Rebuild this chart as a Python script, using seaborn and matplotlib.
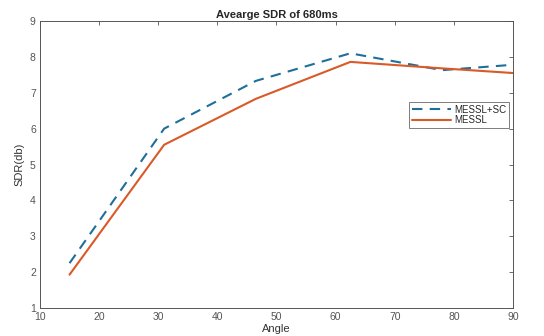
import numpy as np
import pandas as pd
import seaborn as sns
import matplotlib
matplotlib.use("Agg")
import matplotlib.pyplot as plt
from matplotlib.lines import Line2D

angles = [15, 31, 46.5, 62.5, 78, 90]
messl_sc = [2.25, 6.0, 7.33, 8.1, 7.63, 7.78]
messl = [1.93, 5.55, 6.83, 7.86, 7.68, 7.55]
series_names = ["MESSL+SC", "MESSL"]
x_ticks = [10, 20, 30, 40, 50, 60, 70, 80, 90]
y_ticks = [1, 2, 3, 4, 5, 6, 7, 8, 9]

df = pd.DataFrame({
    "Angle": angles * 2,
    "SDR": messl_sc + messl,
    "Method": [series_names[0]] * len(angles) + [series_names[1]] * len(angles),
})

sns.set_theme(style="white")
plt.rcParams['font.family'] = ['Liberation Sans', 'DejaVu Sans']

fig = plt.figure(figsize=(5.44, 3.36), dpi=100)
ax = fig.add_axes([0.0735, 0.0833, 0.8695, 0.8542])

palette = {"MESSL+SC": "#1f6f9a", "MESSL": "#d95a28"}
sns.lineplot(data=df, x="Angle", y="SDR", hue="Method", style="Method",
             palette=palette, dashes={"MESSL+SC": (5, 3.5), "MESSL": ""},
             linewidth=1.5, ax=ax, legend=False)

ax.set_xlim(10, 90)
ax.set_ylim(1, 9)
ax.set_xticks(x_ticks)
ax.set_yticks(y_ticks)
ax.tick_params(direction="in", length=3, width=0.6, top=True, right=True,
               labelsize=7.5, colors="#555555", pad=3)
for s in ax.spines.values():
    s.set_color("#555555")
    s.set_linewidth(0.7)
ax.set_xlabel("Angle", fontsize=8, color="#333333", labelpad=1)
ax.set_ylabel("SDR(db)", fontsize=8, color="#333333", labelpad=4)
ax.set_title("Avearge SDR of 680ms", fontsize=8, fontweight="bold", pad=2)

handles = [Line2D([], [], color=palette["MESSL+SC"], lw=1.5, dashes=(5, 3.5)),
           Line2D([], [], color=palette["MESSL"], lw=1.5)]
leg = ax.legend(handles, series_names, loc="upper left", bbox_to_anchor=(0.77, 0.735),
                fontsize=7, frameon=True, fancybox=False, handlelength=4,
                borderpad=0.3, labelspacing=0.05, handletextpad=0.3)
leg.get_frame().set_edgecolor("#444444")
leg.get_frame().set_linewidth(0.6)

fig.savefig("out.png", dpi=100)
